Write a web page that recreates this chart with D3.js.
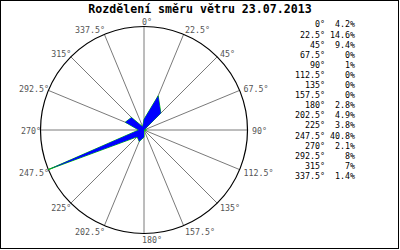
<!DOCTYPE html>
<html><head><meta charset="utf-8">
<script src="https://cdn.jsdelivr.net/npm/d3@7"></script>
<style>body{margin:0;background:#fff}svg{display:block}</style>
</head><body>
<script>
const title = "Rozdělení směru větru 23.07.2013";
const directions = [0,22.5,45,67.5,90,112.5,135,157.5,180,202.5,225,247.5,270,292.5,315,337.5];
const dirLabels = ["0°","22.5°","45°","67.5°","90°","112.5°","135°","157.5°","180°","202.5°","225°","247.5°","270°","292.5°","315°","337.5°"];
const values = [4.2,14.6,9.4,0,1,0,0,0,2.8,4.9,3.8,40.8,2.1,8,7,1.4];
const valueLabels = ["4.2%","14.6%","9.4%","0%","1%","0%","0%","0%","2.8%","4.9%","3.8%","40.8%","2.1%","8%","7%","1.4%"];

const W=400,H=250, cx=144, cy=130, R=103.5;
const svg=d3.select("body").append("svg").attr("width",W).attr("height",H);
svg.append("rect").attr("x",0.5).attr("y",0.5).attr("width",398).attr("height",248)
  .attr("fill","#fff").attr("stroke","#000").attr("stroke-width",1);

svg.append("text").attr("x",200).attr("y",13).attr("text-anchor","middle")
  .attr("font-family","DejaVu Sans Mono").attr("font-weight","bold").attr("font-size",11.6)
  .attr("fill","#000").text(title);

const rs=d3.scaleLinear().domain([0,d3.max(values)]).range([0,R]);
const ang=d=>d*Math.PI/180;
const g=svg.append("g").attr("transform",`translate(${cx},${cy})`);

g.selectAll("line.spoke").data(directions).join("line").attr("class","spoke")
  .attr("x1",0).attr("y1",0)
  .attr("x2",d=>R*Math.sin(ang(d))).attr("y2",d=>-R*Math.cos(ang(d)))
  .attr("stroke","#7a7a7a").attr("stroke-width",1);

g.append("circle").attr("r",R).attr("fill","none").attr("stroke","#000").attr("stroke-width",1.2);

const pts=directions.map((d,i)=>({a:ang(d),r:rs(values[i])}));
const line=d3.lineRadial().angle(d=>d.a).radius(d=>d.r).curve(d3.curveLinearClosed);
g.append("path").attr("d",line(pts)).attr("fill","none").attr("stroke","#00c800").attr("stroke-width",1);
g.append("path").attr("d",line(pts)).attr("fill","#0000ff").attr("stroke","none");

g.selectAll("text.lab").data(directions).join("text").attr("class","lab")
  .attr("x",d=>{const s=Math.sin(ang(d));
    if(Math.abs(s)<0.01) return -2;
    return s>0 ? R*s+1+3.5*s*s : R*s+0.5;})
  .attr("y",d=>{const c=Math.cos(ang(d));return -R*c-5.5*c+1;})
  .attr("dy","0.35em")
  .attr("text-anchor",d=>{const s=Math.sin(ang(d));return Math.abs(s)<0.01?"start":(s>0?"start":"end");})
  .attr("font-family","DejaVu Sans Mono").attr("font-size",8.3).attr("fill","#555")
  .text((d,i)=>dirLabels[i]);

const leg=svg.append("g");
const rowY=i=>24.5+i*10.1;
leg.selectAll("text.la").data(dirLabels).join("text").attr("class","la")
  .attr("x",325).attr("y",(d,i)=>rowY(i)).attr("dy","0.35em").attr("text-anchor","end")
  .attr("font-family","DejaVu Sans Mono").attr("font-size",8.3).attr("fill","#000").text(d=>d);
leg.selectAll("text.lv").data(valueLabels).join("text").attr("class","lv")
  .attr("x",355).attr("y",(d,i)=>rowY(i)).attr("dy","0.35em").attr("text-anchor","end")
  .attr("font-family","DejaVu Sans Mono").attr("font-size",8.3).attr("fill","#000").text(d=>d);
</script>
</body></html>
